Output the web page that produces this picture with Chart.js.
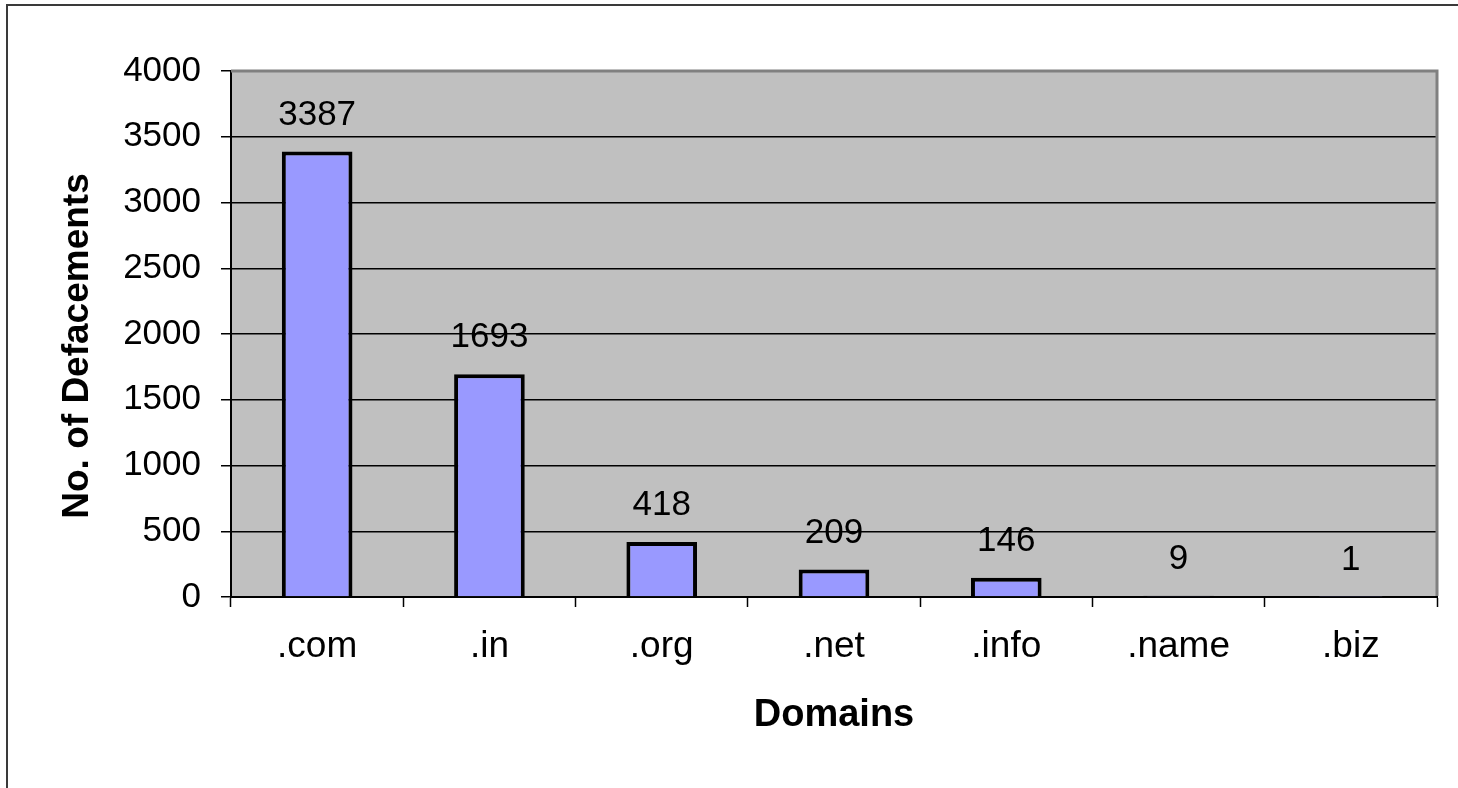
<!DOCTYPE html>
<html>
<head>
<meta charset="utf-8">
<script src="https://cdn.jsdelivr.net/npm/chart.js@4/dist/chart.umd.min.js"></script>
<style>
  html, body { margin: 0; padding: 0; background: #ffffff; }
  #c { display: block; }
</style>
</head>
<body>
<canvas id="c" width="1458" height="788"></canvas>
<script>
// ---- data ----
const categories = ['.com', '.in', '.org', '.net', '.info', '.name', '.biz'];
const defacements = [3387, 1693, 418, 209, 146, 9, 1];
const yTickMin = 0;
const yTickMax = 4000;
const yTickStep = 500;
const xTitle = 'Domains';
const yTitle = 'No. of Defacements';

const FONT = "'Liberation Sans', Arial, sans-serif";

const framePlugin = {
  id: 'frame',
  beforeDraw(chart) {
    const { ctx, chartArea: a, width, height } = chart;
    ctx.save();
    ctx.fillStyle = '#ffffff';
    ctx.fillRect(0, 0, width, height);
    // outer frame (left and top edges visible)
    ctx.strokeStyle = '#3a3a3a';
    ctx.lineWidth = 2;
    ctx.beginPath();
    ctx.moveTo(7, height + 2);
    ctx.lineTo(7, 5);
    ctx.lineTo(width + 2, 5);
    ctx.stroke();
    // plot area background
    ctx.fillStyle = '#c0c0c0';
    ctx.fillRect(a.left, a.top, a.right - a.left, a.bottom - a.top);
    ctx.restore();
  },
  afterDraw(chart) {
    const { ctx, chartArea: a } = chart;
    ctx.save();
    // gray top/right plot border
    ctx.strokeStyle = '#808080';
    ctx.lineWidth = 3;
    ctx.beginPath();
    ctx.moveTo(a.left, a.top);
    ctx.lineTo(a.right, a.top);
    ctx.lineTo(a.right, a.bottom - 1);
    ctx.stroke();
    // axis titles
    ctx.fillStyle = '#000000';
    ctx.font = 'bold 38px ' + FONT;
    ctx.textAlign = 'center';
    ctx.textBaseline = 'middle';
    ctx.fillText(xTitle, (a.left + a.right) / 2, 716);
    ctx.font = 'bold 37px ' + FONT;
    ctx.translate(78, 346);
    ctx.rotate(-Math.PI / 2);
    ctx.fillText(yTitle, 0, 0);
    ctx.restore();
  },
  afterDatasetsDraw(chart) {
    const { ctx } = chart;
    const meta = chart.getDatasetMeta(0);
    ctx.save();
    ctx.fillStyle = '#000000';
    ctx.font = '35px ' + FONT;
    ctx.textAlign = 'center';
    ctx.textBaseline = 'alphabetic';
    meta.data.forEach((el, i) => {
      ctx.fillText(String(chart.data.datasets[0].data[i]), el.x, el.y - 27);
    });
    ctx.restore();
  }
};

new Chart(document.getElementById('c'), {
  type: 'bar',
  data: {
    labels: categories,
    datasets: [{
      data: defacements,
      backgroundColor: '#9999ff',
      borderColor: '#000000',
      borderWidth: 4,
      barPercentage: 0.41,
      categoryPercentage: 1.0
    }]
  },
  options: {
    responsive: false,
    animation: false,
    layout: { padding: { top: 71, right: 21, left: 0, bottom: 0 } },
    plugins: {
      legend: { display: false },
      tooltip: { enabled: false }
    },
    scales: {
      x: {
        offset: true,
        afterFit(scale) { scale.height = 191; },
        grid: {
          offset: true,
          drawOnChartArea: false,
          drawTicks: true,
          tickLength: 10,
          tickColor: '#000000',
          tickWidth: 1.5
        },
        border: { display: true, color: '#000000', width: 2 },
        ticks: {
          color: '#000000',
          font: { family: FONT, size: 37 },
          padding: 18,
          maxRotation: 0,
          autoSkip: false
        }
      },
      y: {
        min: yTickMin,
        max: yTickMax,
        afterFit(scale) { scale.width = 231; },
        grid: {
          color: '#000000',
          lineWidth: 1.5,
          drawTicks: true,
          tickLength: 10,
          tickColor: '#000000',
          tickWidth: 1.5
        },
        border: { display: true, color: '#000000', width: 2 },
        ticks: {
          stepSize: yTickStep,
          color: '#000000',
          font: { family: FONT, size: 35 },
          padding: 20,
          callback: (v) => String(v)
        }
      }
    }
  },
  plugins: [framePlugin]
});
</script>
</body>
</html>
